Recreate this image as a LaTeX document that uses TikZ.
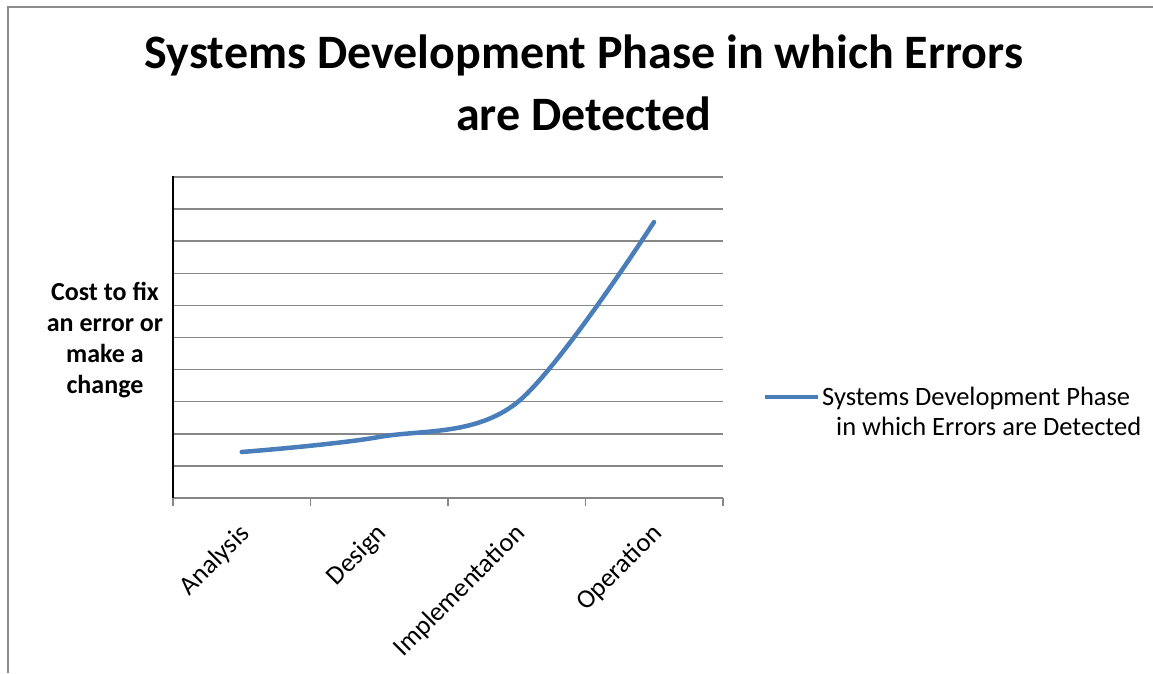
\documentclass[tikz,border=0pt]{standalone}
\usepackage{fontspec}
\setmainfont{Carlito}
\begin{document}
\begin{tikzpicture}[x=1pt,y=-1pt,
  grid/.style={draw=gridgray,line width=1.5pt},
  axisline/.style={draw=black,line width=1.5pt},
  series/.style={draw=seriesblue,line width=4.5pt,line cap=round},
  catlabel/.style={rotate=45,anchor=east,inner sep=0pt,font=\fontsize{26.5}{32}\selectfont},
  title/.style={font=\bfseries\fontsize{48}{59}\selectfont,align=center,inner sep=0pt},
  ylab/.style={font=\bfseries\fontsize{26}{31}\selectfont,align=center,inner sep=0pt},
  legtext/.style={font=\fontsize{26.5}{29}\selectfont,inner sep=0pt,anchor=base west}]
\definecolor{gridgray}{HTML}{878787}
\definecolor{seriesblue}{HTML}{4A7EBB}
\definecolor{framegray}{HTML}{8C8C8C}
\useasboundingbox (0,0) rectangle (1153,673);
% frame
\draw[framegray,line width=1.5pt] (8,673) -- (8,7) -- (1153,7);
% gridlines
\foreach \k in {0,...,9}{
  \draw[grid] (173,{177+32.1*\k}) -- (723,{177+32.1*\k});
}
% category axis
\coordinate (xa0) at (173,498);
\coordinate (xa1) at (723,498);
\draw[grid] (xa0) -- (xa1);
\foreach \x in {173,310.5,448,585.5,723}{
  \draw[grid] (\x,498) -- (\x,506);
}
% value axis
\coordinate (ya0) at (173,176);
\coordinate (ya1) at (173,498);
\draw[axisline] (ya0) -- (ya1);
% series
\coordinate (p1) at (241.75,452);
\coordinate (p2) at (379,437);
\coordinate (p3) at (516.5,403);
\coordinate (p4) at (654,222);
\draw[series] plot[smooth,tension=0.55] coordinates {(p1) (p2) (p3) (p4)};
% category labels
\node[catlabel] (c1) at (246,530) {Analysis};
\node[catlabel] (c2) at (383,530) {Design};
\node[catlabel] (c3) at (521,530) {Implementation};
\node[catlabel] (c4) at (658,530) {Operation};
% title
\node[title,anchor=base] (t1) at (584,68) {Systems Development Phase in which Errors};
\node[title,anchor=base] (t2) at (584,130) {are Detected};
% y label
\node[ylab,anchor=base] (y1) at (105,300) {Cost to fix};
\node[ylab,anchor=base] (y2) at (105,331) {an error or};
\node[ylab,anchor=base] (y3) at (105,362) {make a};
\node[ylab,anchor=base] (y4) at (105,393) {change};
% legend
\coordinate (l0) at (765,397);
\coordinate (l1) at (818,397);
\draw[series,line cap=butt] (l0) -- (l1);
\node[legtext] (lg1) at (822,405) {Systems Development Phase};
\node[legtext] (lg2) at (836,435) {in which Errors are Detected};
\end{tikzpicture}
\end{document}
